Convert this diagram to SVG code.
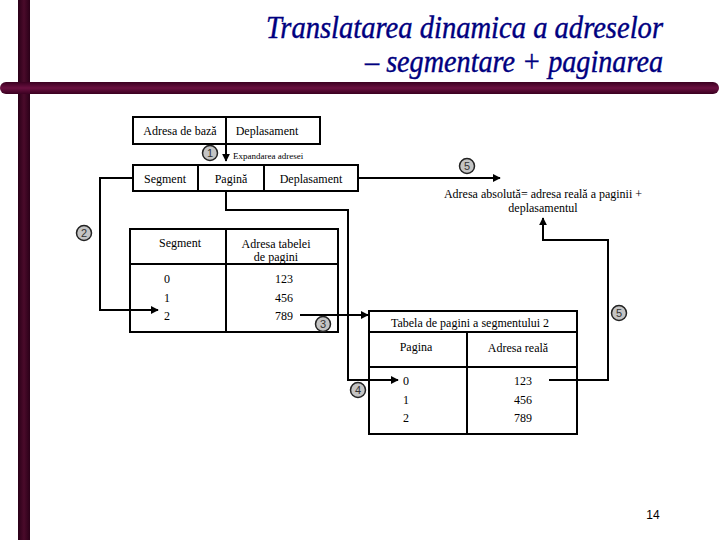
<svg xmlns="http://www.w3.org/2000/svg" width="720" height="540" viewBox="0 0 720 540">
<defs>
<linearGradient id="hbar" x1="0" y1="0" x2="0" y2="1">
<stop offset="0" stop-color="#3a0020"/><stop offset="0.5" stop-color="#6a1040"/><stop offset="1" stop-color="#3a0020"/>
</linearGradient>
<linearGradient id="vbar" x1="0" y1="0" x2="1" y2="0">
<stop offset="0" stop-color="#2a0018"/><stop offset="0.5" stop-color="#4a0a2a"/><stop offset="1" stop-color="#2a0018"/>
</linearGradient>
<marker id="arr" viewBox="0 0 10 10" refX="9" refY="5" markerWidth="4" markerHeight="4" orient="auto" markerUnits="strokeWidth">
<path d="M0,0 L10,5 L0,10 z" fill="#000"/>
</marker>
</defs>
<style>
.t{font-family:"Liberation Serif","Times New Roman",serif;font-size:12px;fill:#000;text-anchor:middle}
.s{font-size:9px}
.box{fill:none;stroke:#000;stroke-width:2}
.ln{fill:none;stroke:#000;stroke-width:2}
.c{fill:#c4c4c4;stroke:#222;stroke-width:1.5}
.cn{font-family:"Liberation Sans",Arial,sans-serif;font-size:11px;fill:#333;text-anchor:middle}
.title{font-family:"Liberation Serif","Times New Roman",serif;font-style:italic;font-size:31px;fill:#000080;text-anchor:end;stroke:#000080;stroke-width:0.4}
</style>
<rect width="720" height="540" fill="#fff"/>
<rect x="18" y="0" width="12" height="540" fill="url(#vbar)"/>
<rect x="0" y="82" width="719" height="12" rx="6" fill="url(#hbar)"/>
<text class="title" x="663" y="38" textLength="397" lengthAdjust="spacingAndGlyphs">Translatarea dinamica a adreselor</text>
<text class="title" x="663" y="72" textLength="298" lengthAdjust="spacingAndGlyphs">– segmentare + paginarea</text>

<g id="connectors">
<path class="ln" d="M226,145 V161" marker-end="url(#arr)"/>
<path class="ln" d="M133,178 H100 V310 H158" marker-end="url(#arr)"/>
<path class="ln" d="M358,178 H500" marker-end="url(#arr)"/>
<path class="ln" d="M226,192 V210 H348 V380 H398" marker-end="url(#arr)"/>
<path class="ln" d="M300,315 H368" marker-end="url(#arr)"/>
<path class="ln" d="M549,380 H608 V240 H543 V218" marker-end="url(#arr)"/>
</g>

<g id="addr1">
<rect class="box" x="133" y="117" width="187" height="27"/>
<line class="ln" x1="226" y1="117" x2="226" y2="144"/>
<text class="t" x="180" y="135">Adresa de bază</text>
<text class="t" x="267" y="135">Deplasament</text>
</g>
<g id="expand-label">
<text class="t s" x="233" y="159" style="text-anchor:start">Expandarea adresei</text>
</g>
<g id="addr2">
<rect class="box" x="133" y="165" width="225" height="26"/>
<line class="ln" x1="198" y1="165" x2="198" y2="191"/>
<line class="ln" x1="264" y1="165" x2="264" y2="191"/>
<text class="t" x="165" y="183">Segment</text>
<text class="t" x="231" y="183">Pagină</text>
<text class="t" x="311" y="183">Deplasament</text>
</g>
<g id="result">
<text class="t" x="543" y="198">Adresa  absolută= adresa reală a paginii +</text>
<text class="t" x="543" y="212">deplasamentul</text>
</g>
<g id="segtable">
<rect class="box" x="130" y="229" width="208" height="103"/>
<line class="ln" x1="226" y1="229" x2="226" y2="332"/>
<line class="ln" x1="130" y1="264" x2="338" y2="264"/>
<text class="t" x="180" y="247">Segment</text>
<text class="t" x="276" y="248">Adresa tabelei</text>
<text class="t" x="276" y="261">de pagini</text>
<text class="t" x="167" y="283">0</text>
<text class="t" x="167" y="302">1</text>
<text class="t" x="167" y="320">2</text>
<text class="t" x="284" y="283">123</text>
<text class="t" x="284" y="302">456</text>
<text class="t" x="284" y="320">789</text>
</g>
<g id="pagetable">
<rect class="box" x="369" y="311" width="208" height="123"/>
<line class="ln" x1="369" y1="332" x2="577" y2="332"/>
<line class="ln" x1="369" y1="367" x2="577" y2="367"/>
<line class="ln" x1="467" y1="332" x2="467" y2="434"/>
<text class="t" x="470" y="327">Tabela de pagini a segmentului 2</text>
<text class="t" x="416" y="351">Pagina</text>
<text class="t" x="518" y="352">Adresa reală</text>
<text class="t" x="406" y="385">0</text>
<text class="t" x="406" y="404">1</text>
<text class="t" x="406" y="422">2</text>
<text class="t" x="523" y="385">123</text>
<text class="t" x="523" y="404">456</text>
<text class="t" x="523" y="422">789</text>
</g>
<g id="step1"><circle class="c" cx="210" cy="153" r="7.5"/><text class="cn" x="210" y="157">1</text></g>
<g id="step2"><circle class="c" cx="84" cy="233" r="7.5"/><text class="cn" x="84" y="237">2</text></g>
<g id="step3"><circle class="c" cx="323" cy="324" r="7.5"/><text class="cn" x="323" y="328">3</text></g>
<g id="step4"><circle class="c" cx="358" cy="390" r="7.5"/><text class="cn" x="358" y="394">4</text></g>
<g id="step5a"><circle class="c" cx="467" cy="166" r="7.5"/><text class="cn" x="467" y="170">5</text></g>
<g id="step5b"><circle class="c" cx="619" cy="313" r="7.5"/><text class="cn" x="619" y="317">5</text></g>
<text x="653" y="519" font-family="Liberation Sans,Arial,sans-serif" font-size="12" text-anchor="middle" fill="#000">14</text>
</svg>
